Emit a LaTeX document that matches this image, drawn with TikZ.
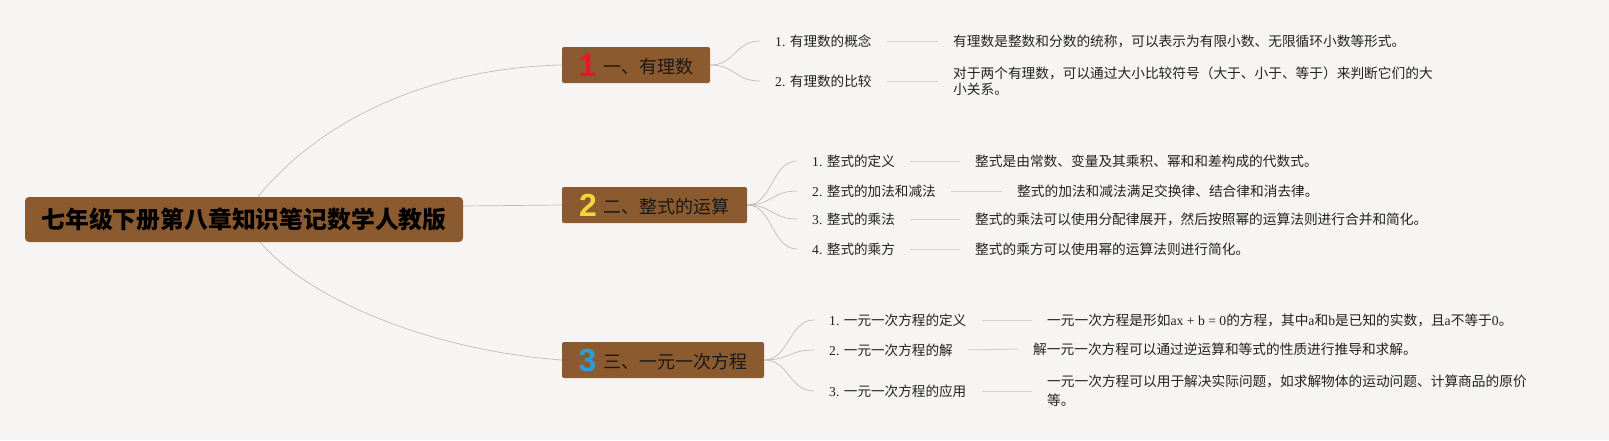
\documentclass[tikz,border=0pt]{standalone}
\usepackage{fontspec}
\setmainfont{Noto Sans CJK SC}
\newfontfamily\lat{Liberation Serif}
\newfontfamily\numfont{Liberation Sans}
\definecolor{bg}{HTML}{F7F5F3}
\definecolor{boxbrown}{HTML}{8B5A2E}
\definecolor{textdark}{HTML}{222222}
\definecolor{curvegrey}{HTML}{BDBDBD}
\definecolor{stubgrey}{HTML}{D2D2D2}
\definecolor{numred}{HTML}{E3192B}
\definecolor{numyellow}{HTML}{F6D43A}
\definecolor{numblue}{HTML}{2A9FDA}
\begin{document}
\begin{tikzpicture}[x=1pt,y=-1pt,
  rootbox/.style={rectangle, rounded corners=4pt, fill=boxbrown, minimum width=438pt, minimum height=45pt, inner sep=0pt, font=\fontsize{24}{28}\selectfont\bfseries, text=black},
  branchbox/.style={rectangle, rounded corners=2pt, fill=boxbrown, minimum height=36pt, inner sep=0pt, font=\fontsize{18}{22}\selectfont, text=black!90},
  itembox/.style={anchor=west, inner xsep=15pt, inner ysep=2pt, font=\fontsize{13.6}{16}\selectfont, text=textdark},
  descbox/.style={anchor=west, inner xsep=15pt, inner ysep=2pt, font=\fontsize{13.7}{15.5}\selectfont, align=left, text=textdark},
  curve/.style={draw=curvegrey, line width=0.7pt},
  stub/.style={draw=stubgrey, line width=1pt}]
\fill[bg] (0,0) rectangle (1609,440);
\useasboundingbox (0,0) rectangle (1609,440);

\node[rootbox] (root) at (244,219.5) {\resizebox{405pt}{!}{七年级下册第八章知识笔记数学人教版}};

\node[branchbox, minimum width=148pt] (b1) at (636,65) {\raisebox{-3pt}{\numfont\bfseries\fontsize{32}{32}\selectfont\color{numred}1}\hspace{7pt}一、有理数};
\node[branchbox, minimum width=185pt] (b2) at (654.5,205) {\raisebox{-3pt}{\numfont\bfseries\fontsize{32}{32}\selectfont\color{numyellow}2}\hspace{7pt}二、整式的运算};
\node[branchbox, minimum width=202pt] (b3) at (663,360) {\raisebox{-3pt}{\numfont\bfseries\fontsize{32}{32}\selectfont\color{numblue}3}\hspace{7pt}三、一元一次方程};

\draw[curve] ([xshift=14pt]root.north) .. controls (320,120) and (430,68) .. (b1.west);
\draw[curve] ([yshift=13.5pt]root.east) -- (b2.west);
\draw[curve] ([xshift=16pt]root.south) .. controls (310,300) and (430,350) .. (b3.west);

% branch 1
\node[itembox] (i11) at (760,41) {{\lat 1. }有理数的概念};
\node[itembox] (i12) at (760,81) {{\lat 2. }有理数的比较};
\node[descbox] (d11) at (938,41) {有理数是整数和分数的统称，可以表示为有限小数、无限循环小数等形式。};
\node[descbox] (d12) at (938,81) {对于两个有理数，可以通过大小比较符号（大于、小于、等于）来判断它们的大\\小关系。};

% branch 2
\node[itembox] (i21) at (797,161) {{\lat 1. }整式的定义};
\node[itembox] (i22) at (797,191) {{\lat 2. }整式的加法和减法};
\node[itembox] (i23) at (797,219) {{\lat 3. }整式的乘法};
\node[itembox] (i24) at (797,249) {{\lat 4. }整式的乘方};
\node[descbox] (d21) at (960,161) {整式是由常数、变量及其乘积、幂和和差构成的代数式。};
\node[descbox] (d22) at (1002,191) {整式的加法和减法满足交换律、结合律和消去律。};
\node[descbox] (d23) at (960,219) {整式的乘法可以使用分配律展开，然后按照幂的运算法则进行合并和简化。};
\node[descbox] (d24) at (960,249) {整式的乘方可以使用幂的运算法则进行简化。};

% branch 3
\node[itembox] (i31) at (814,320) {{\lat 1. }一元一次方程的定义};
\node[itembox] (i32) at (814,350) {{\lat 2. }一元一次方程的解};
\node[itembox] (i33) at (814,391) {{\lat 3. }一元一次方程的应用};
\node[descbox] (d31) at (1032,320) {一元一次方程是形如{\lat ax + b = 0}的方程，其中{\lat a}和{\lat b}是已知的实数，且{\lat a}不等于{\lat 0}。};
\node[descbox] (d32) at (1018,349) {解一元一次方程可以通过逆运算和等式的性质进行推导和求解。};
\node[descbox, font=\fontsize{13.7}{19}\selectfont] (d33) at (1032,391) {一元一次方程可以用于解决实际问题，如求解物体的运动问题、计算商品的原价\\等。};

% branch to item curves
\foreach \b/\i in {b1/i11,b1/i12,b2/i21,b2/i22,b2/i23,b2/i24,b3/i31,b3/i32,b3/i33}{
  \draw[curve] (\b.east) .. controls +(25,0) and +(-25,0) .. (\i.west);
}
% item to description stubs
\foreach \i/\d in {i11/d11,i12/d12,i21/d21,i22/d22,i23/d23,i24/d24,i31/d31,i32/d32,i33/d33}{
  \draw[stub] (\i.east) -- (\d.west);
}
\end{tikzpicture}
\end{document}
